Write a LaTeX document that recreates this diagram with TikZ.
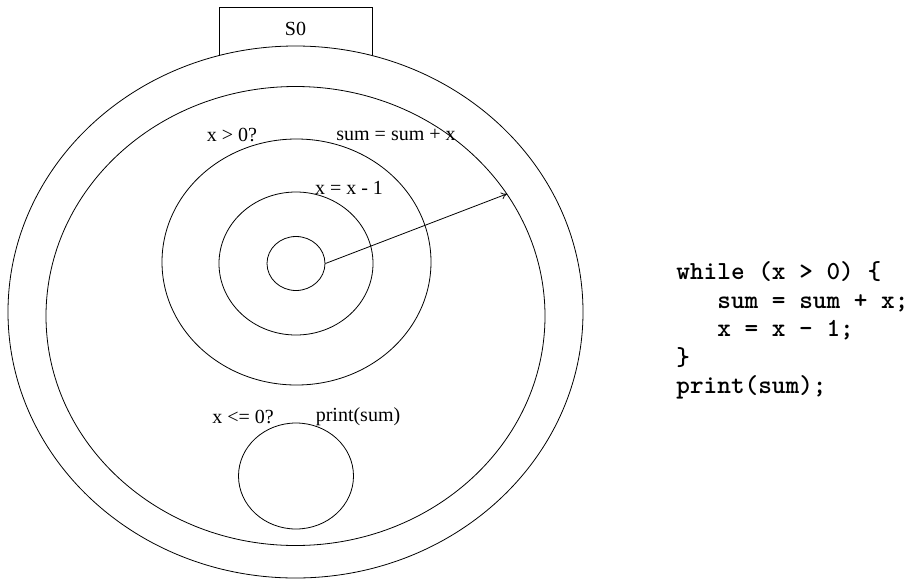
\documentclass[tikz,border=0pt]{standalone}
\usepackage{fontspec}
\setmainfont{Liberation Serif}
\usetikzlibrary{shapes.geometric,arrows.meta}
\begin{document}
\begin{tikzpicture}[x=1pt,y=-1pt,line width=0.8pt,
  ring/.style={draw,ellipse,inner sep=0pt},
  lbl/.style={font=\fontsize{20}{24}\selectfont,inner sep=0pt},
  code/.style={font=\ttfamily\bfseries\fontsize{26}{28.5}\selectfont,align=left,inner sep=0pt}]
\useasboundingbox (0,0) rectangle (913,582);
\node[draw,anchor=north,minimum width=153pt,inner sep=0pt,text height=27.75pt,text depth=45pt,font=\fontsize{20}{24}\selectfont] (s0) at (295.5,7) {S0};
\node[ring,fill=white,minimum width=575pt,minimum height=532pt] (c1) at (295.5,312) {};
\node[ring,minimum width=499pt,minimum height=459pt] (c2) at (295.5,316) {};
\node[ring,minimum width=269pt,minimum height=246pt] (c3) at (296.5,262) {};
\node[ring,minimum width=154pt,minimum height=143pt] (c4) at (296,263.5) {};
\node[ring,minimum width=58pt,minimum height=54pt] (c5) at (296,263.5) {};
\node[ring,minimum width=115pt,minimum height=106pt] (c6) at (296,476) {};
\draw[-{To[length=6pt,width=7pt]}] (c5.east) -- (c2.30);
\node[lbl] (t1) at (232,135) {x > 0?};
\node[lbl] (t2) at (396,135) {sum = sum + x};
\node[lbl] (t3) at (349,188) {x = x - 1};
\node[lbl] (t4) at (243,417) {x <= 0?};
\node[lbl] (t5) at (358,417) {print(sum)};
\node[code,anchor=north west] (code) at (676,261.5) {while (x > 0) \{\\
\ \ \ sum = sum + x;\\
\ \ \ x = x - 1;\\
\}\\
print(sum);};
\end{tikzpicture}
\end{document}
